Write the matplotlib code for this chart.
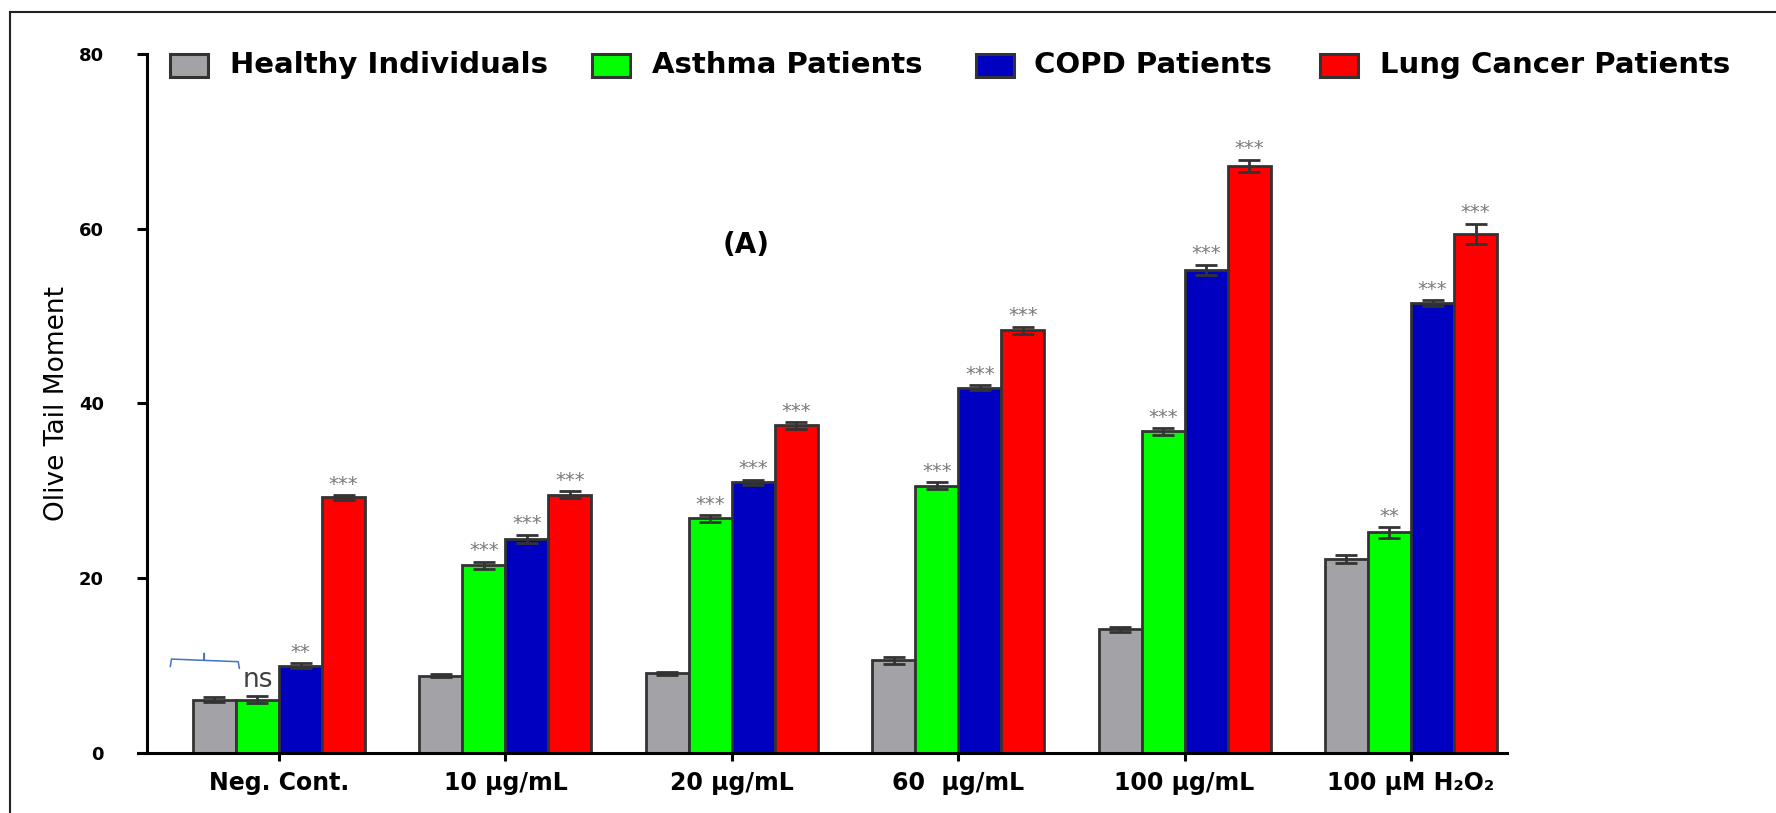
import numpy as np
import matplotlib
matplotlib.use('Agg')
import matplotlib.pyplot as plt
from matplotlib.lines import Line2D
from matplotlib.patches import Rectangle

plt.rcParams['font.family'] = 'DejaVu Sans'

groups = ['Neg. Cont.', '10 µg/mL', '20 µg/mL', '60  µg/mL', '100 µg/mL', '100 µM H₂O₂']
series = ['Healthy Individuals', 'Asthma Patients', 'COPD Patients', 'Lung Cancer Patients']

# mean Olive tail moment per group
healthy = [6.1, 8.85, 9.1, 10.6, 14.15, 22.2]
asthma = [6.1, 21.5, 26.85, 30.6, 36.8, 25.25]
copd = [10.0, 24.5, 31.0, 41.8, 55.3, 51.5]
cancer = [29.25, 29.55, 37.5, 48.4, 67.2, 59.4]

# SEM
healthy_err = [0.3, 0.2, 0.2, 0.4, 0.3, 0.5]
asthma_err = [0.4, 0.4, 0.4, 0.4, 0.4, 0.6]
copd_err = [0.3, 0.5, 0.3, 0.3, 0.6, 0.3]
cancer_err = [0.3, 0.4, 0.4, 0.4, 0.7, 1.2]

# significance vs healthy individuals
asthma_sig = ['ns', '***', '***', '***', '***', '**']
copd_sig = ['**', '***', '***', '***', '***', '***']
cancer_sig = ['***', '***', '***', '***', '***', '***']

colors = ['#a3a2a7', '#00ff00', '#0000c0', '#ff0000']
edge = '#333333'

fig = plt.figure(figsize=(17.76, 8.13), dpi=100)
W, H = 1776, 813
ax = fig.add_axes([147 / W, 60 / H, 1360 / W, 699 / H])

x = np.arange(len(groups))
w = 0.19
values = [healthy, asthma, copd, cancer]
errors = [healthy_err, asthma_err, copd_err, cancer_err]
for i in range(4):
    pos = x + (i - 1.5) * w
    ax.bar(pos, values[i], w, color=colors[i], edgecolor=edge, linewidth=2, zorder=2)
    ax.errorbar(pos, values[i], yerr=errors[i], fmt='none', ecolor=edge,
                elinewidth=2, capsize=8, capthick=2, zorder=3)

# stars above the bars
for i, sig in [(1, asthma_sig), (2, copd_sig), (3, cancer_sig)]:
    pos = x + (i - 1.5) * w
    for j in range(len(groups)):
        top = values[i][j] + errors[i][j]
        if sig[j] == 'ns':
            ax.text(pos[j], top + 1.1, 'ns', ha='center', va='baseline',
                    fontsize=19, color='#404040', zorder=4)
        else:
            ax.text(pos[j], top + 0.6, sig[j], ha='center', va='baseline',
                    fontsize=14, color='#7a7a7a', zorder=4)

# bracket over the control bar
bx = [-0.48, -0.475, -0.33, -0.33, -0.33, -0.18, -0.175]
by = [9.9, 10.75, 10.6, 11.4, 10.6, 10.45, 9.7]
ax.plot(bx, by, color='#4472c4', linewidth=1.1, zorder=4)

ax.text(2.063, 58.1, '(A)', ha='center', va='center', fontsize=20, fontweight='bold')

ax.set_xlim(-0.583, 5.424)
ax.set_ylim(0, 80)
ax.set_yticks([0, 20, 40, 60, 80])
ax.set_xticks(x)
ax.set_xticklabels(groups, fontsize=17, fontweight='bold')
for lab in ax.get_yticklabels():
    lab.set_fontweight('bold')
    lab.set_fontsize(13)

ax.spines['top'].set_visible(False)
ax.spines['right'].set_visible(False)
ax.spines['left'].set_linewidth(2.2)
ax.spines['bottom'].set_linewidth(2.2)
ax.spines['bottom'].set_bounds(-0.623, 5.424)
ax.tick_params(axis='y', length=7, width=2.2, pad=24)
ax.tick_params(axis='x', length=6, width=2.2, pad=7)

ax.set_ylabel('Olive Tail Moment', fontsize=19, va='center')
ax.yaxis.set_label_coords(-90 / 1360, 0.5)

# legend row across the top
sq_x = [170, 592, 976, 1320]
txt_x = [230, 652, 1034, 1380]
for i in range(4):
    fig.add_artist(Rectangle((sq_x[i] / W, 1 - 77 / H), 38 / W, 23 / H,
                             transform=fig.transFigure, facecolor=colors[i],
                             edgecolor=edge, linewidth=2.2))
    fig.text(txt_x[i] / W, 1 - 73 / H, series[i], fontsize=21, fontweight='bold',
             ha='left', va='baseline')

# outer frame (top and left edges)
fig.add_artist(Line2D([10 / W, 10 / W], [0, 1 - 12 / H], transform=fig.transFigure,
                      color='#222222', linewidth=1.5))
fig.add_artist(Line2D([10 / W, 1], [1 - 12 / H, 1 - 12 / H], transform=fig.transFigure,
                      color='#222222', linewidth=1.5))

fig.savefig('out.png', dpi=100)
